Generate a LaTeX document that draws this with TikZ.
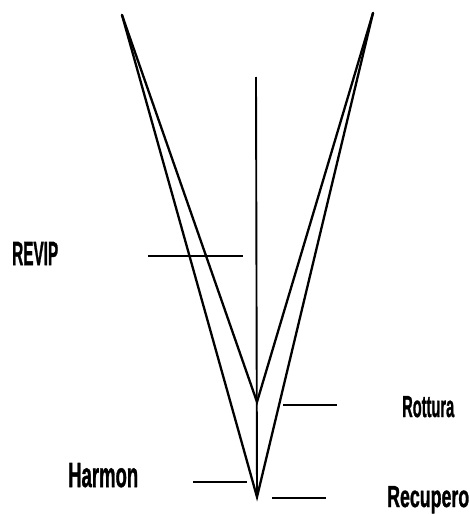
\documentclass[tikz,border=0pt]{standalone}
\usepackage{fontspec}
\usepackage{graphicx}
\newfontfamily\labfont[BoldFeatures={FakeBold=1.5}]{Liberation Sans}
\tikzset{
  vline/.style={line width=2.3pt, line cap=round},
  axis/.style={line width=1.9pt},
  bar/.style={line width=2.8pt},
  lab/.style={anchor=base west, inner sep=0pt, font=\labfont\bfseries}
}
\newcommand{\fitw}[3]{\resizebox{#1}{#2}{#3}}
\begin{document}
\begin{tikzpicture}[x=1pt,y=-1pt]
\useasboundingbox (0,0) rectangle (470,514);
% key points
\coordinate (tl) at (122,15);
\coordinate (tr) at (373,13);
\coordinate (ai) at (257,402);
\coordinate (ao) at (257,497);
\coordinate (vt) at (256,77);
\coordinate (vb) at (257,497);
% V lines
\draw[vline] (tl) -- (ao) -- (tr);
\draw[vline] (tl) -- (ai) -- (tr);
% vertical axis
\draw[axis] (vt) -- (vb);
% bars
\coordinate (b1a) at (148,256); \coordinate (b1b) at (243,256);
\coordinate (b2a) at (283,405); \coordinate (b2b) at (337,405);
\coordinate (b3a) at (193,482); \coordinate (b3b) at (247,482);
\coordinate (b4a) at (272,498); \coordinate (b4b) at (326,498);
\draw[bar] (b1a) -- (b1b);
\draw[bar] (b2a) -- (b2b);
\draw[bar] (b3a) -- (b3b);
\draw[bar] (b4a) -- (b4b);
% labels
\node[lab] (revip) at (12,265) {\fitw{46pt}{23pt}{REVIP}};
\node[lab] (rottura) at (402,417) {\fitw{52pt}{21pt}{Rottura}};
\node[lab] (harmon) at (68,487) {\fitw{70pt}{24pt}{Harmon}};
\node[lab] (recupero) at (387,507) {\fitw{82pt}{21pt}{Recupero}};
\end{tikzpicture}
\end{document}
